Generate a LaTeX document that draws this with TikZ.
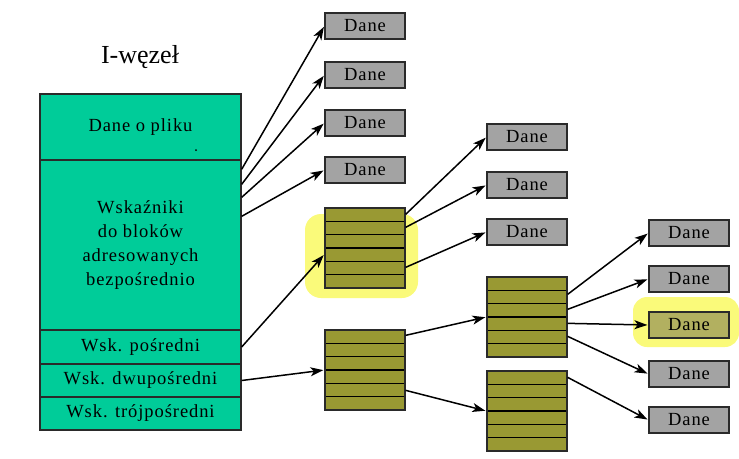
\documentclass[tikz,border=0pt]{standalone}
\usepackage{fontspec}
\setmainfont{Liberation Serif}
\newfontfamily\diagfont[LetterSpace=5]{Liberation Serif}
\newfontfamily\titlefont{Liberation Serif}
\usetikzlibrary{calc,arrows.meta}
\definecolor{inodegreen}{HTML}{00CC99}
\definecolor{danegray}{HTML}{A3A3A3}
\definecolor{stackolive}{HTML}{999933}
\definecolor{hlyellow}{HTML}{FAFA7A}
\definecolor{hlgray}{HTML}{B2B060}
\definecolor{edgegray}{HTML}{2A2A2A}
\tikzset{
  cell/.style={draw=edgegray, line width=1.3pt, fill=inodegreen, minimum width=201pt,
    inner sep=0pt, font=\diagfont\fontsize{18.5}{24}\selectfont, align=center},
  dane/.style={draw=edgegray, line width=1.2pt, fill=danegray, minimum width=80pt,
    minimum height=26pt, inner sep=0pt, font=\diagfont\fontsize{18.5}{19}\selectfont},
  stack/.style={draw=edgegray, line width=1.3pt, fill=stackolive, minimum width=80pt,
    minimum height=80pt, inner sep=0pt,
    path picture={\foreach \k in {1,...,5}{\draw[black, line width=1.4pt]
      ($(path picture bounding box.north west)!\k/6!(path picture bounding box.south west)$) --
      ($(path picture bounding box.north east)!\k/6!(path picture bounding box.south east)$);}}},
  ptr/.style={line width=1.5pt, -{Stealth[length=13pt,width=9pt,inset=3.5pt]}, shorten >=1pt},
  hl/.style={fill=hlyellow, draw=none}
}
\begin{document}
\begin{tikzpicture}[x=1pt,y=-1pt]
\useasboundingbox (0,0) rectangle (739,458);
% highlights (behind)
\fill[hl, rounded corners=16pt] (305,214) rectangle (418,298);
\fill[hl, rounded corners=14pt] (633,297) rectangle (739,347);

% title
\node[font=\titlefont\fontsize{26}{26}\selectfont] (title) at (140,57) {I-węzeł};

% i-node
\node[cell, minimum height=66pt] (c1) at (140.5,127) {Dane o pliku};
\node[cell, minimum height=170pt] (c2) at (140.5,245) {Wskaźniki\\do bloków\\adresowanych\\bezpośrednio};
\node[cell, minimum height=34pt] (c3) at (140.5,347) {Wsk. pośredni};
\node[cell, minimum height=33pt] (c4) at (140.5,380.5) {Wsk. dwupośredni};
\node[cell, minimum height=33pt] (c5) at (140.5,413.5) {Wsk. trójpośredni};
\fill[black] (196,150) circle (1pt);

% first column
\node[dane] (d1) at (365,26) {Dane};
\node[dane] (d2) at (365,75) {Dane};
\node[dane] (d3) at (365,123) {Dane};
\node[dane] (d4) at (365,170) {Dane};
\node[stack] (blk1) at (365,248) {};
\node[stack] (blk2) at (365,370) {};

% second column
\node[dane] (e1) at (527,137) {Dane};
\node[dane] (e2) at (527,185) {Dane};
\node[dane] (e3) at (527,232) {Dane};
\node[stack] (blkA) at (527,317) {};
\node[stack] (blkB) at (527,411) {};

% third column
\node[dane] (f1) at (689,233) {Dane};
\node[dane] (f2) at (689,279) {Dane};
\node[dane, fill=hlgray] (f3) at (689,325) {Dane};
\node[dane] (f4) at (689,374) {Dane};
\node[dane] (f5) at (689,420) {Dane};

% start points
\coordinate (p1) at ($(c2.north east)+(0,10)$);
\coordinate (p2) at ($(c2.north east)+(0,25)$);
\coordinate (p3) at ($(c2.north east)+(0,38)$);
\coordinate (p4) at ($(c2.north east)+(0,57)$);
\coordinate (q1) at ($(blk1.north east)+(0,7)$);
\coordinate (q2) at ($(blk1.north east)+(0,20)$);
\coordinate (q3) at ($(blk1.north east)+(0,60)$);
\coordinate (t1) at ($(blk1.north west)+(0,47)$);
\coordinate (r1) at ($(blk2.north east)+(0,6)$);
\coordinate (r2) at ($(blk2.north east)+(0,61)$);
\coordinate (s1) at ($(blkA.north east)+(0,18)$);
\coordinate (s2) at ($(blkA.north east)+(0,33)$);
\coordinate (s3) at ($(blkA.north east)+(0,47)$);
\coordinate (s4) at ($(blkA.north east)+(0,60)$);
\coordinate (u1) at ($(blkB.north east)+(0,7)$);

% connectors
\draw[ptr] (p1) -- (d1.west);
\draw[ptr] (p2) -- (d2.west);
\draw[ptr] (p3) -- (d3.west);
\draw[ptr] (p4) -- (d4.west);
\draw[ptr] (c3.east) -- (t1);
\draw[ptr] (c4.east) -- (blk2.west);
\draw[ptr] (q1) -- (e1.west);
\draw[ptr] (q2) -- (e2.west);
\draw[ptr] (q3) -- (e3.west);
\draw[ptr] (r1) -- (blkA.west);
\draw[ptr] (r2) -- (blkB.west);
\draw[ptr] (s1) -- (f1.west);
\draw[ptr] (s2) -- (f2.west);
\draw[ptr] (s3) -- (f3.west);
\draw[ptr] (s4) -- (f4.west);
\draw[ptr] (u1) -- (f5.west);
\end{tikzpicture}
\end{document}
